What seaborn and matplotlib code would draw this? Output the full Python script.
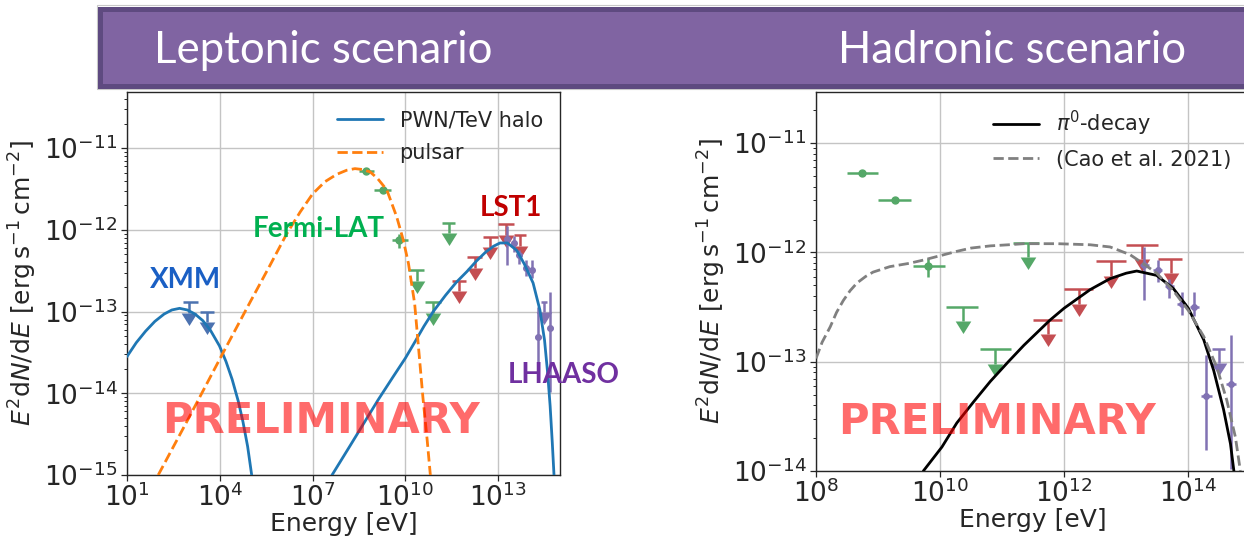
import numpy as np
import matplotlib
matplotlib.use("Agg")
import matplotlib.pyplot as plt
from matplotlib.patches import Rectangle
from matplotlib.ticker import FixedLocator, LogFormatterMathtext, NullLocator, NullFormatter
import seaborn as sns

# ---------------- measured points (E in eV, E^2 dN/dE in erg s^-1 cm^-2) ----------------
xmm_E = [1.0e3, 4.0e3]
xmm_E_lo = [6.5e2, 2.3e3]
xmm_E_hi = [2.0e3, 6.3e3]
xmm_ul = [1.3e-13, 1.0e-13]

fermi_E = [5.5e8, 1.85e9, 6.4e9]
fermi_E_lo = [3.2e8, 1.0e9, 3.7e9]
fermi_E_hi = [1.0e9, 3.4e9, 1.2e10]
fermi_flux = [5.3e-12, 3.05e-12, 7.5e-13]
fermi_flux_lo = [5.05e-12, 2.9e-12, 6.0e-13]
fermi_flux_hi = [5.55e-12, 3.2e-12, 8.9e-13]

fermi_ul_E = [2.3e10, 7.8e10, 2.6e11]
fermi_ul_E_lo = [1.25e10, 4.4e10, 1.5e11]
fermi_ul_E_hi = [4.1e10, 1.4e11, 4.0e11]
fermi_ul = [3.2e-13, 1.3e-13, 1.23e-12]

lst_E = [5.5e11, 1.75e12, 5.6e12, 1.8e13, 5.2e13]
lst_E_lo = [3.2e11, 1.0e12, 3.2e12, 1.0e13, 3.3e13]
lst_E_hi = [9.3e11, 2.9e12, 9.8e12, 3.2e13, 7.9e13]
lst_ul = [2.4e-13, 4.6e-13, 8.3e-13, 1.17e-12, 8.7e-13]

lhaaso_E = [1.95e13, 3.2e13, 4.9e13, 7.9e13, 1.26e14, 1.95e14, 4.8e14]
lhaaso_E_lo = [1.65e13, 2.7e13, 4.2e13, 6.7e13, 1.07e14, 1.6e14, 4.0e14]
lhaaso_E_hi = [2.3e13, 3.75e13, 5.8e13, 9.3e13, 1.48e14, 2.4e14, 5.8e14]
lhaaso_flux = [7.7e-13, 6.9e-13, 4.9e-13, 3.4e-13, 3.2e-13, 4.9e-14, 6.3e-14]
lhaaso_flux_lo = [3.7e-13, 5.4e-13, 3.8e-13, 2.7e-13, 2.6e-13, 1.55e-14, 1.05e-14]
lhaaso_flux_hi = [1.12e-12, 8.5e-13, 5.75e-13, 4.3e-13, 4.3e-13, 1.15e-13, 1.74e-13]

lhaaso_ul_E = [3.1e14]
lhaaso_ul_E_lo = [2.45e14]
lhaaso_ul_E_hi = [3.9e14]
lhaaso_ul = [1.32e-13]

# ---------------- model curves (log10 E, log10 E^2 dN/dE) ----------------
sync_logE = [1.0, 1.3, 1.6, 1.9, 2.2, 2.45, 2.7, 2.95, 3.2, 3.45, 3.7, 3.99, 4.2, 4.4, 4.6, 4.75,
             4.9, 5.05]
sync_logF = [-13.55, -13.38, -13.24, -13.12, -13.03, -12.98, -12.96, -12.98, -13.03, -13.11, -13.23,
             -13.42, -13.61, -13.83, -14.1, -14.35, -14.65, -15.05]

ic_logE = [7.63, 8.2, 8.7, 9.12, 9.6, 10.0, 10.31, 10.6, 10.9, 11.3, 11.65, 11.99, 12.3, 12.6,
           12.85, 13.06, 13.3, 13.6, 13.85, 14.13, 14.35, 14.5, 14.6, 14.68, 14.75, 14.82]
ic_logF = [-15.0, -14.65, -14.34, -14.08, -13.8, -13.57, -13.37, -13.18, -13.0, -12.8, -12.64, -12.51,
           -12.38, -12.27, -12.2, -12.16, -12.16, -12.25, -12.42, -12.65, -12.98, -13.35, -13.75,
           -14.15, -14.6, -15.1]

psr_logE = [2.01, 3.0, 4.07, 5.0, 5.6, 6.16, 6.6, 7.0, 7.4, 7.78, 8.1, 8.37, 8.6, 8.86, 9.1, 9.4,
            9.72, 9.93, 10.1, 10.3, 10.57, 10.7, 10.82]
psr_logF = [-15.0, -14.3, -13.53, -12.87, -12.45, -12.05, -11.78, -11.56, -11.41, -11.32, -11.27,
            -11.25, -11.26, -11.29, -11.37, -11.51, -11.84, -12.12, -12.41, -12.9, -14.06, -14.55,
            -15.05]

pi_logE = [9.73, 10.03, 10.27, 10.55, 10.81, 11.1, 11.35, 11.77, 12.0, 12.42, 12.74, 13.0, 13.17,
           13.49, 13.76, 14.0, 14.25, 14.41, 14.57, 14.68, 14.74]
pi_logF = [-14.0, -13.78, -13.56, -13.36, -13.18, -13.0, -12.85, -12.62, -12.51, -12.34, -12.24,
           -12.19, -12.17, -12.21, -12.33, -12.51, -12.8, -13.08, -13.44, -13.75, -14.02]

cao_logE = [8.0, 8.1, 8.23, 8.33, 8.44, 8.55, 8.66, 8.8, 8.92, 9.19, 9.5, 9.73, 10.0, 10.27, 10.5,
            10.81, 11.1, 11.35, 11.89, 12.42, 12.74, 13.06, 13.27, 13.49, 13.76, 14.0, 14.25, 14.46,
            14.62, 14.76, 14.84]
cao_logF = [-12.97, -12.82, -12.68, -12.55, -12.44, -12.35, -12.28, -12.22, -12.18, -12.13, -12.1,
            -12.07, -12.03, -11.99, -11.96, -11.94, -11.93, -11.92, -11.92, -11.93, -11.95, -12.02,
            -12.10, -12.19, -12.35, -12.53, -12.77, -13.05, -13.35, -13.69, -14.0]

# ---------------- style ----------------
sns.set_theme(style="ticks")
plt.rcParams.update({
    "font.family": ["DejaVu Sans"],
    "mathtext.fontset": "dejavusans",
    "axes.edgecolor": "0.15",
    "axes.linewidth": 1.0,
    "xtick.major.size": 4.0,
    "ytick.major.size": 4.0,
    "ytick.minor.size": 2.2,
    "xtick.major.width": 0.9,
    "ytick.major.width": 0.9,
    "ytick.minor.width": 0.7,
    "xtick.major.pad": 2.0,
    "ytick.major.pad": 3.0,
    "xtick.labelsize": 19,
    "ytick.labelsize": 19,
    "axes.labelsize": 18,
    "legend.fontsize": 15,
})

deep = sns.color_palette("deep")
c_xmm, c_fermi, c_lst, c_lha = deep[0], deep[2], deep[3], deep[4]

ARROW = 0.26          # arrow stem length as fraction of the upper limit value
tri = [(-1.0, 0.0), (1.0, 0.0), (0.0, -1.6), (-1.0, 0.0)]   # downward arrow head, base at anchor
TRI_MS = 18

fig = plt.figure(figsize=(12.44, 5.40), dpi=100)


def upper_limits(ax, E, E_lo, E_hi, ul, color):
    E = np.asarray(E); ul = np.asarray(ul)
    xerr = [E - np.asarray(E_lo), np.asarray(E_hi) - E]
    yerr = [ul * ARROW, np.zeros_like(ul)]
    ax.errorbar(E, ul, xerr=xerr, yerr=yerr, fmt="none", ecolor=color,
                elinewidth=1.8, capsize=0, zorder=2)
    ax.plot(E, ul * (1 - ARROW), ls="none", marker=tri, ms=TRI_MS,
            color=color, mew=0, zorder=2)


def flux_points(ax, E, E_lo, E_hi, F, F_lo, F_hi, color, ms):
    E = np.asarray(E); F = np.asarray(F)
    xerr = [E - np.asarray(E_lo), np.asarray(E_hi) - E]
    yerr = [F - np.asarray(F_lo), np.asarray(F_hi) - F]
    ax.errorbar(E, F, xerr=xerr, yerr=yerr, fmt="o", ms=ms, color=color,
                elinewidth=1.8, capsize=0, zorder=2)


def curve(ax, logE, logF, **kw):
    sns.lineplot(x=10 ** np.asarray(logE), y=10 ** np.asarray(logF), ax=ax,
                 sort=False, estimator=None, zorder=3, **kw)


def dress(ax, xticks, ydecades, xlim):
    ax.set_xscale("log")
    ax.set_yscale("log")
    ax.set_xlim(*xlim)
    ax.set_ylim(10.0 ** ydecades[0], 10.0 ** ydecades[1])
    ax.xaxis.set_major_locator(FixedLocator(xticks))
    ax.xaxis.set_major_formatter(LogFormatterMathtext())
    ax.xaxis.set_minor_locator(NullLocator())
    lo, hi = ydecades
    majors = [10.0 ** k for k in range(int(np.ceil(lo)), int(np.floor(hi)) + 1)]
    minors = [m * 10.0 ** k for k in range(int(np.floor(lo)), int(np.ceil(hi)))
              for m in range(2, 10) if lo <= np.log10(m * 10.0 ** k) <= hi]
    ax.yaxis.set_major_locator(FixedLocator(majors))
    ax.yaxis.set_major_formatter(LogFormatterMathtext())
    ax.yaxis.set_minor_locator(FixedLocator(minors))
    ax.yaxis.set_minor_formatter(NullFormatter())
    ax.grid(True, which="major", color="#c4c4c4", lw=1.0)
    ax.set_xlabel("Energy [eV]", labelpad=0)
    ax.set_ylabel(r"$E^2\mathrm{d}N/\mathrm{d}E\ [\mathrm{erg\,s^{-1}\,cm^{-2}}]$", labelpad=3)


# ---------------- leptonic panel ----------------
axL = fig.add_axes([127 / 1244, 65 / 540, 433 / 1244, 383 / 540])
curve(axL, sync_logE, sync_logF, color="#1f77b4", lw=2.0, label="PWN/TeV halo")
curve(axL, ic_logE, ic_logF, color="#1f77b4", lw=2.0)
curve(axL, psr_logE, psr_logF, color="#ff7f0e", lw=2.0, ls="--", label="pulsar")
upper_limits(axL, xmm_E, xmm_E_lo, xmm_E_hi, xmm_ul, c_xmm)
flux_points(axL, fermi_E, fermi_E_lo, fermi_E_hi, fermi_flux, fermi_flux_lo, fermi_flux_hi, c_fermi, 5)
upper_limits(axL, fermi_ul_E, fermi_ul_E_lo, fermi_ul_E_hi, fermi_ul, c_fermi)
upper_limits(axL, lst_E, lst_E_lo, lst_E_hi, lst_ul, c_lst)
flux_points(axL, lhaaso_E, lhaaso_E_lo, lhaaso_E_hi, lhaaso_flux, lhaaso_flux_lo, lhaaso_flux_hi, c_lha, 4)
upper_limits(axL, lhaaso_ul_E, lhaaso_ul_E_lo, lhaaso_ul_E_hi, lhaaso_ul, c_lha)
dress(axL, [1e1, 1e4, 1e7, 1e10, 1e13], (-15.0, -10.312), (1e1, 1e15))
h, l = axL.get_legend_handles_labels()
axL.legend(h, l, loc="upper left", bbox_to_anchor=(0.485, 0.952), frameon=False,
           borderpad=0, borderaxespad=0, handlelength=2.2, handletextpad=0.8, labelspacing=0.6)

lab = dict(family=["Lato", "DejaVu Sans"], fontweight="bold", fontsize=20,
           ha="center", va="center", transform=axL.transAxes, zorder=5)
axL.text(0.134, 0.509, "XMM", color="#1a5fc4", **lab)
axL.text(0.442, 0.642, "Fermi-LAT", color="#00b050", **lab)
axL.text(0.887, 0.698, "LST1", color="#c00000", **lab)
axL.text(1.009, 0.261, "LHAASO", color="#7030a0", clip_on=False, **lab)
axL.text(0.447, 0.14, "PRELIMINARY", color="red", alpha=0.58, fontsize=30,
         fontweight="bold", ha="center", va="center", transform=axL.transAxes, zorder=6)

# ---------------- hadronic panel ----------------
axR = fig.add_axes([816 / 1244, 69 / 540, 434.3 / 1244, 379 / 540])
curve(axR, pi_logE, pi_logF, color="black", lw=2.0, label=r"$\pi^0$-decay")
curve(axR, cao_logE, cao_logF, color="#808080", lw=2.0, ls="--", label="(Cao et al. 2021)")
flux_points(axR, fermi_E, fermi_E_lo, fermi_E_hi, fermi_flux, fermi_flux_lo, fermi_flux_hi, c_fermi, 5)
upper_limits(axR, fermi_ul_E, fermi_ul_E_lo, fermi_ul_E_hi, fermi_ul, c_fermi)
upper_limits(axR, lst_E, lst_E_lo, lst_E_hi, lst_ul, c_lst)
flux_points(axR, lhaaso_E, lhaaso_E_lo, lhaaso_E_hi, lhaaso_flux, lhaaso_flux_lo, lhaaso_flux_hi, c_lha, 4)
upper_limits(axR, lhaaso_ul_E, lhaaso_ul_E_lo, lhaaso_ul_E_hi, lhaaso_ul, c_lha)
dress(axR, [1e8, 1e10, 1e12, 1e14], (-14.0, -10.532), (1e8, 1e15))
h, l = axR.get_legend_handles_labels()
axR.legend(h, l, loc="upper left", bbox_to_anchor=(0.408, 0.955), frameon=False,
           borderpad=0, borderaxespad=0, handlelength=2.2, handletextpad=0.8, labelspacing=0.55)
axR.text(0.417, 0.129, "PRELIMINARY", color="red", alpha=0.58, fontsize=30,
         fontweight="bold", ha="center", va="center", transform=axR.transAxes, zorder=6)

# ---------------- title banner ----------------
fig.add_artist(Rectangle((97.5 / 1244, 1 - 89 / 540), 1.2, 84 / 540, transform=fig.transFigure,
                         facecolor="none", edgecolor="#c8c8c8", lw=0.8, zorder=-1))
fig.add_artist(Rectangle((100 / 1244, 1 - 85.5 / 540), 1.2, 77 / 540, transform=fig.transFigure,
                         facecolor="#8064a2", edgecolor="#5e4a80", lw=3.6, zorder=0))
fig.text(154 / 1244, 1 - 63 / 540, "Leptonic scenario", color="white", fontsize=31.5,
         family=["Lato", "DejaVu Sans"], ha="left", va="baseline")
fig.text(838 / 1244, 1 - 63 / 540, "Hadronic scenario", color="white", fontsize=31.5,
         family=["Lato", "DejaVu Sans"], ha="left", va="baseline")

fig.savefig("out.png", dpi=100)
